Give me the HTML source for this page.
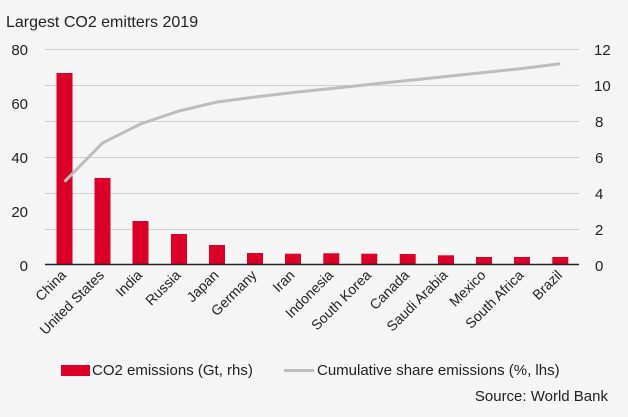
<!DOCTYPE html>
<html><head><style>
body{margin:0;background:#f5f5f5;}
svg{display:block;font-family:"Liberation Sans",sans-serif;}
</style></head><body>
<svg width="628" height="417" viewBox="0 0 628 417">
<rect width="628" height="417" fill="#f5f5f5"/>
<text x="6" y="27" font-size="16" fill="#222">Largest CO2 emitters 2019</text>
<g stroke="#d0d0d0" stroke-width="1">
<line x1="45" x2="579" y1="49.5" y2="49.5"/><line x1="45" x2="579" y1="85.5" y2="85.5"/>
<line x1="45" x2="579" y1="121.5" y2="121.5"/><line x1="45" x2="579" y1="157.5" y2="157.5"/>
<line x1="45" x2="579" y1="193.5" y2="193.5"/><line x1="45" x2="579" y1="229.5" y2="229.5"/>
</g>
<g font-size="15" fill="#222" text-anchor="end">
<text x="28" y="55">80</text><text x="28" y="109">60</text><text x="28" y="163">40</text><text x="28" y="217">20</text><text x="28" y="271">0</text>
</g>
<g font-size="15" fill="#222">
<text x="594" y="55">12</text><text x="594" y="91">10</text><text x="595" y="127">8</text><text x="595" y="163">6</text><text x="595" y="199">4</text><text x="595" y="235">2</text><text x="595" y="271">0</text>
</g>
<g fill="#dc0028">
<rect x="56.5" y="73" width="16" height="191"/>
<rect x="94.5" y="178" width="16" height="86"/>
<rect x="132.5" y="221" width="16" height="43"/>
<rect x="171" y="234" width="16" height="30"/>
<rect x="209" y="245" width="16" height="19"/>
<rect x="247" y="253" width="16" height="11"/>
<rect x="285" y="253.7" width="16" height="10.3"/>
<rect x="323.3" y="253.3" width="16" height="10.7"/>
<rect x="361.3" y="253.7" width="16" height="10.3"/>
<rect x="399.7" y="254" width="16" height="10"/>
<rect x="438" y="255.3" width="16" height="8.7"/>
<rect x="476" y="257" width="16" height="7"/>
<rect x="514" y="257" width="16" height="7"/>
<rect x="552.3" y="257" width="16" height="7"/>
</g>
<line x1="45" x2="579" y1="264.5" y2="264.5" stroke="#222" stroke-width="1.5"/>
<polyline fill="none" stroke="#bdbdbd" stroke-width="3" points="64.5,181.7 102.5,143 140.5,124 179,111 217,102 255,97 293,92.5 331.3,88.5 369.3,84.5 407.7,80.5 446,76.5 484,72.5 522,68.5 560.3,63.7"/>
<g font-size="14" fill="#222" text-anchor="end">
<text transform="translate(67,276) rotate(-45)">China</text>
<text transform="translate(105,276) rotate(-45)">United States</text>
<text transform="translate(143,276) rotate(-45)">India</text>
<text transform="translate(181.5,276) rotate(-45)">Russia</text>
<text transform="translate(219.5,276) rotate(-45)">Japan</text>
<text transform="translate(257.5,276) rotate(-45)">Germany</text>
<text transform="translate(295.5,276) rotate(-45)">Iran</text>
<text transform="translate(334,276) rotate(-45)">Indonesia</text>
<text transform="translate(372,276) rotate(-45)">South Korea</text>
<text transform="translate(410,276) rotate(-45)">Canada</text>
<text transform="translate(448.5,276) rotate(-45)">Saudi Arabia</text>
<text transform="translate(486.5,276) rotate(-45)">Mexico</text>
<text transform="translate(524.5,276) rotate(-45)">South Africa</text>
<text transform="translate(563,276) rotate(-45)">Brazil</text>
</g>
<rect x="61" y="365" width="29" height="11" fill="#dc0028"/>
<text x="92" y="375" font-size="15" fill="#222">CO2 emissions (Gt, rhs)</text>
<line x1="284" x2="314" y1="370.5" y2="370.5" stroke="#bdbdbd" stroke-width="3"/>
<text x="317" y="375" font-size="15" fill="#222">Cumulative share emissions (%, lhs)</text>
<text x="608" y="401" font-size="15" fill="#222" text-anchor="end">Source: World Bank</text>
</svg>
</body></html>
